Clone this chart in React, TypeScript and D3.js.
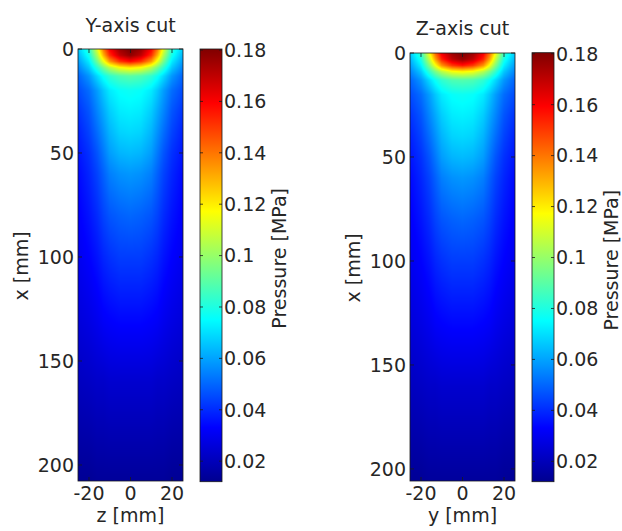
import React, { useMemo } from 'react';
import * as d3 from 'd3';

const W = 622;
const H = 531;

// Grid: |lateral| position (mm) x depth (mm) -> pressure (MPa)
const lateralMm = [0, 5, 10, 13, 16, 20, 25.5];
const depthMm = [0, 3, 6, 9, 13, 20, 30, 40, 50, 60, 80, 100, 130, 160, 208];

const yCutRows = [
  [0.182, 0.176, 0.160, 0.140, 0.112, 0.082, 0.066],
  [0.178, 0.170, 0.152, 0.130, 0.104, 0.078, 0.062],
  [0.158, 0.151, 0.134, 0.114, 0.094, 0.072, 0.058],
  [0.120, 0.116, 0.105, 0.094, 0.082, 0.066, 0.054],
  [0.090, 0.088, 0.083, 0.077, 0.069, 0.058, 0.049],
  [0.077, 0.076, 0.072, 0.066, 0.059, 0.051, 0.045],
  [0.073, 0.072, 0.067, 0.061, 0.055, 0.047, 0.041],
  [0.069, 0.068, 0.063, 0.057, 0.051, 0.044, 0.038],
  [0.064, 0.063, 0.059, 0.053, 0.047, 0.041, 0.036],
  [0.058, 0.057, 0.054, 0.049, 0.044, 0.039, 0.034],
  [0.050, 0.049, 0.047, 0.044, 0.040, 0.036, 0.032],
  [0.043, 0.043, 0.041, 0.039, 0.036, 0.033, 0.030],
  [0.034, 0.034, 0.033, 0.032, 0.030, 0.028, 0.026],
  [0.024, 0.024, 0.024, 0.023, 0.023, 0.022, 0.021],
  [0.014, 0.014, 0.014, 0.014, 0.014, 0.013, 0.013],
];

const zCutRows = [
  [0.181, 0.176, 0.162, 0.143, 0.116, 0.084, 0.066],
  [0.177, 0.170, 0.154, 0.133, 0.107, 0.079, 0.062],
  [0.156, 0.150, 0.135, 0.116, 0.096, 0.073, 0.058],
  [0.118, 0.115, 0.105, 0.095, 0.083, 0.066, 0.054],
  [0.089, 0.088, 0.083, 0.077, 0.069, 0.058, 0.049],
  [0.077, 0.076, 0.072, 0.066, 0.059, 0.051, 0.045],
  [0.073, 0.072, 0.067, 0.061, 0.055, 0.047, 0.041],
  [0.069, 0.068, 0.063, 0.057, 0.051, 0.044, 0.038],
  [0.064, 0.063, 0.059, 0.053, 0.047, 0.041, 0.036],
  [0.058, 0.057, 0.054, 0.049, 0.044, 0.039, 0.034],
  [0.050, 0.049, 0.047, 0.044, 0.040, 0.036, 0.032],
  [0.043, 0.043, 0.041, 0.039, 0.036, 0.033, 0.030],
  [0.034, 0.034, 0.033, 0.032, 0.030, 0.028, 0.026],
  [0.024, 0.024, 0.024, 0.023, 0.023, 0.022, 0.021],
  [0.014, 0.014, 0.014, 0.014, 0.014, 0.013, 0.013],
];

const lateralTicks = [-20, 0, 20];
const depthTicks = [0, 50, 100, 150, 200];
const pressureTicks = [0.02, 0.04, 0.06, 0.08, 0.1, 0.12, 0.14, 0.16, 0.18];
const pressureTickLabels = ['0.02', '0.04', '0.06', '0.08', '0.1', '0.12', '0.14', '0.16', '0.18'];
const pressureDomain = [0.012, 0.1804];
const jetStops = [0, 0.125, 0.375, 0.625, 0.875, 1];
const jetColors = ['#00008f', '#0000ff', '#00ffff', '#ffff00', '#ff0000', '#800000'];

const FONT = '"DejaVu Sans", "Liberation Sans", Arial, sans-serif';
const FS = 19;
const TXT = '#262626';

type Panel = {
  id: string;
  title: string;
  xlabel: string;
  rows: number[][];
  plot: { x0: number; x1: number; y0: number; y1: number };
  cbar: { x0: number; x1: number; y0: number; y1: number };
  lateralMax: number;
  depthMax: number;
  titleY: number;
};

const panels: Panel[] = [
  {
    id: 'l',
    title: 'Y-axis cut',
    xlabel: 'z [mm]',
    rows: yCutRows,
    plot: { x0: 78, x1: 183, y0: 49, y1: 481 },
    cbar: { x0: 200, x1: 222, y0: 49, y1: 481.7 },
    lateralMax: 25.3,
    depthMax: 207.7,
    titleY: 32,
  },
  {
    id: 'r',
    title: 'Z-axis cut',
    xlabel: 'y [mm]',
    rows: zCutRows,
    plot: { x0: 410, x1: 515, y0: 53, y1: 481 },
    cbar: { x0: 532, x1: 554, y0: 52.7, y1: 481.7 },
    lateralMax: 25.3,
    depthMax: 205.8,
    titleY: 35,
  },
];

const jet = d3
  .scaleLinear<string>()
  .domain(jetStops)
  .range(jetColors)
  .interpolate(d3.interpolateRgb)
  .clamp(true);

const valueToT = d3.scaleLinear().domain(pressureDomain).range([0, 1]).clamp(true);

function sampleField(rows: number[][], lat: number, dep: number): number {
  const a = Math.min(Math.abs(lat), lateralMm[lateralMm.length - 1]);
  const d = Math.max(0, Math.min(dep, depthMm[depthMm.length - 1]));
  let i = d3.bisectRight(depthMm, d) - 1;
  i = Math.max(0, Math.min(i, depthMm.length - 2));
  let j = d3.bisectRight(lateralMm, a) - 1;
  j = Math.max(0, Math.min(j, lateralMm.length - 2));
  const fy = (d - depthMm[i]) / (depthMm[i + 1] - depthMm[i]);
  const fx = (a - lateralMm[j]) / (lateralMm[j + 1] - lateralMm[j]);
  const v00 = rows[i][j];
  const v01 = rows[i][j + 1];
  const v10 = rows[i + 1][j];
  const v11 = rows[i + 1][j + 1];
  return (v00 * (1 - fx) + v01 * fx) * (1 - fy) + (v10 * (1 - fx) + v11 * fx) * fy;
}

function useFieldImage(p: Panel, xs: d3.ScaleLinear<number, number>, ys: d3.ScaleLinear<number, number>) {
  return useMemo(() => {
    if (typeof document === 'undefined') return '';
    const w = Math.round(p.plot.x1 - p.plot.x0);
    const h = Math.round(p.plot.y1 - p.plot.y0);
    const canvas = document.createElement('canvas');
    canvas.width = w;
    canvas.height = h;
    const ctx = canvas.getContext('2d');
    if (!ctx) return '';
    const img = ctx.createImageData(w, h);
    for (let py = 0; py < h; py++) {
      const dep = ys.invert(p.plot.y0 + py + 0.5);
      for (let px = 0; px < w; px++) {
        const lat = xs.invert(p.plot.x0 + px + 0.5);
        const v = sampleField(p.rows, lat, dep);
        const c = d3.rgb(jet(valueToT(v)));
        const k = (py * w + px) * 4;
        img.data[k] = c.r;
        img.data[k + 1] = c.g;
        img.data[k + 2] = c.b;
        img.data[k + 3] = 255;
      }
    }
    ctx.putImageData(img, 0, 0);
    return canvas.toDataURL();
  }, [p, xs, ys]);
}

function PanelView({ p }: { p: Panel }) {
  const xs = useMemo(
    () => d3.scaleLinear().domain([-p.lateralMax, p.lateralMax]).range([p.plot.x0, p.plot.x1]),
    [p]
  );
  const ys = useMemo(() => d3.scaleLinear().domain([0, p.depthMax]).range([p.plot.y0, p.plot.y1]), [p]);
  const cs = useMemo(
    () => d3.scaleLinear().domain(pressureDomain).range([p.cbar.y1, p.cbar.y0]),
    [p]
  );
  const href = useFieldImage(p, xs, ys);
  const { x0, x1, y0, y1 } = p.plot;
  const cb = p.cbar;
  const tl = 4;
  const ctl = 3;
  const midY = (y0 + y1) / 2 + 1;
  const gradId = `jet-${p.id}`;

  return (
    <g>
      <defs>
        <linearGradient id={gradId} x1="0" y1="1" x2="0" y2="0">
          {jetStops.map((s, i) => (
            <stop key={i} offset={s} stopColor={jetColors[i]} />
          ))}
        </linearGradient>
      </defs>
      <text x={(x0 + x1) / 2} y={p.titleY} textAnchor="middle" fontSize={FS} fill={TXT} fontFamily={FONT}>
        {p.title}
      </text>
      {href && (
        <image href={href} x={x0} y={y0} width={x1 - x0} height={y1 - y0} preserveAspectRatio="none" />
      )}
      {depthTicks.map((t) => (
        <g key={`yt${t}`}>
          <line x1={x0} x2={x0 + tl} y1={ys(t)} y2={ys(t)} stroke="#1a1a1a" strokeWidth={0.8} />
          <line x1={x1} x2={x1 - tl} y1={ys(t)} y2={ys(t)} stroke="#1a1a1a" strokeWidth={0.8} />
          <text x={x0 - 4} y={ys(t)} dy="0.36em" textAnchor="end" fontSize={FS} fill={TXT} fontFamily={FONT}>
            {t}
          </text>
        </g>
      ))}
      {lateralTicks.map((t) => (
        <g key={`xt${t}`}>
          <line x1={xs(t)} x2={xs(t)} y1={y0} y2={y0 + tl} stroke="#1a1a1a" strokeWidth={0.8} />
          <line x1={xs(t)} x2={xs(t)} y1={y1} y2={y1 - tl} stroke="#1a1a1a" strokeWidth={0.8} />
          <text x={xs(t)} y={y1 + 12} dy="0.36em" textAnchor="middle" fontSize={FS} fill={TXT} fontFamily={FONT}>
            {t}
          </text>
        </g>
      ))}
      <rect x={x0} y={y0} width={x1 - x0} height={y1 - y0} fill="none" stroke="#1a1a1a" strokeWidth={0.8} />
      <text x={(x0 + x1) / 2} y={522} textAnchor="middle" fontSize={FS} fill={TXT} fontFamily={FONT}>
        {p.xlabel}
      </text>
      <text
        transform={`translate(${x0 - 50},${midY}) rotate(-90)`}
        textAnchor="middle"
        fontSize={FS}
        fill={TXT}
        fontFamily={FONT}
      >
        x [mm]
      </text>
      <rect x={cb.x0} y={cb.y0} width={cb.x1 - cb.x0} height={cb.y1 - cb.y0} fill={`url(#${gradId})`} />
      {pressureTicks.map((t, i) => (
        <g key={`ct${i}`}>
          <line x1={cb.x0} x2={cb.x0 + ctl} y1={cs(t)} y2={cs(t)} stroke="#1a1a1a" strokeWidth={0.8} />
          <line x1={cb.x1} x2={cb.x1 - ctl} y1={cs(t)} y2={cs(t)} stroke="#1a1a1a" strokeWidth={0.8} />
          <text x={cb.x1 + 2} y={cs(t)} dy="0.36em" textAnchor="start" fontSize={FS} fill={TXT} fontFamily={FONT}>
            {pressureTickLabels[i]}
          </text>
        </g>
      ))}
      <rect
        x={cb.x0}
        y={cb.y0}
        width={cb.x1 - cb.x0}
        height={cb.y1 - cb.y0}
        fill="none"
        stroke="#1a1a1a"
        strokeWidth={0.8}
      />
      <text
        transform={`translate(${cb.x1 + 64},${(cb.y0 + cb.y1) / 2 - 7}) rotate(-90)`}
        textAnchor="middle"
        fontSize={FS}
        fill={TXT}
        fontFamily={FONT}
      >
        Pressure [MPa]
      </text>
    </g>
  );
}

export default function App() {
  return (
    <svg
      width={W}
      height={H}
      viewBox={`0 0 ${W} ${H}`}
      style={{ position: 'absolute', left: 0, top: 0, background: '#ffffff' }}
    >
      <rect x={0} y={0} width={W} height={H} fill="#ffffff" />
      {panels.map((p) => (
        <PanelView key={p.id} p={p} />
      ))}
    </svg>
  );
}
